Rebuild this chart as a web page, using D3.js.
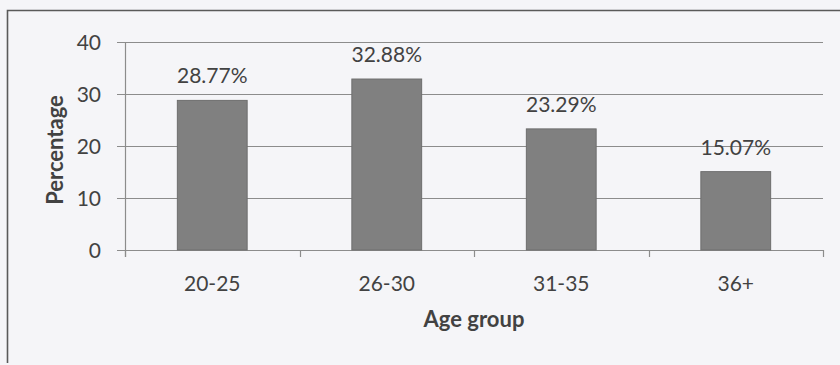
<!DOCTYPE html>
<html>
<head>
<meta charset="utf-8">
<script src="https://cdn.jsdelivr.net/npm/d3@7"></script>
<style>
  html, body { margin: 0; padding: 0; background: #f5f5f8; }
  svg { display: block; }
  text { font-family: Lato, "Open Sans", sans-serif; fill: #424242; }
</style>
</head>
<body>
<svg id="chart" width="840" height="365"></svg>
<script>
// Age groups and their share of respondents (%)
const categories = ["20-25", "26-30", "31-35", "36+"];
const values = [28.77, 32.88, 23.29, 15.07];
const valueLabels = ["28.77%", "32.88%", "23.29%", "15.07%"];
const yTicks = [0, 10, 20, 30, 40];

const svg = d3.select("#chart");
const W = 840, H = 365;
const plot = { left: 125, right: 823, top: 42, bottom: 250 };

// Chart frame
svg.append("path")
  .attr("d", `M7.5,${H - 2} L7.5,10.5 L${W},10.5`)
  .attr("fill", "none")
  .attr("stroke", "#5a5a5a")
  .attr("stroke-width", 1.6);

const x = d3.scaleBand()
  .domain(categories)
  .range([plot.left, plot.right])
  .paddingInner(0)
  .paddingOuter(0);

const y = d3.scaleLinear()
  .domain([0, 40])
  .range([plot.bottom, plot.top]);

// Horizontal gridlines with left tick marks
svg.append("g")
  .selectAll("line")
  .data(yTicks)
  .join("line")
  .attr("x1", plot.left - 8)
  .attr("x2", plot.right)
  .attr("y1", d => Math.round(y(d)) + 0.5)
  .attr("y2", d => Math.round(y(d)) + 0.5)
  .attr("stroke", "#8c8c8c")
  .attr("stroke-width", 1.2);

// Y axis line
svg.append("line")
  .attr("x1", plot.left + 0.5).attr("x2", plot.left + 0.5)
  .attr("y1", plot.top).attr("y2", plot.bottom + 7)
  .attr("stroke", "#8c8c8c")
  .attr("stroke-width", 1.2);

// X axis tick marks at category boundaries
const bounds = categories.map(c => x(c)).concat([plot.right]);
svg.append("g")
  .selectAll("line")
  .data(bounds)
  .join("line")
  .attr("x1", d => Math.round(d) + 0.5)
  .attr("x2", d => Math.round(d) + 0.5)
  .attr("y1", plot.bottom)
  .attr("y2", plot.bottom + 7)
  .attr("stroke", "#8c8c8c")
  .attr("stroke-width", 1.2);

// Y tick labels
svg.append("g")
  .selectAll("text")
  .data(yTicks)
  .join("text")
  .attr("x", 101)
  .attr("y", d => y(d))
  .attr("dy", "0.36em")
  .attr("text-anchor", "end")
  .attr("font-size", 21)
  .text(d => d);

// Bars: 40% of each category slot, centred
const barW = x.bandwidth() * 0.4;
svg.append("g")
  .selectAll("rect")
  .data(values)
  .join("rect")
  .attr("x", (d, i) => x(categories[i]) + (x.bandwidth() - barW) / 2)
  .attr("y", d => y(d))
  .attr("width", barW)
  .attr("height", d => y(0) - y(d))
  .attr("fill", "#808080")
  .attr("stroke", "#6e6e6e")
  .attr("stroke-width", 1);

// Value labels above bars
svg.append("g")
  .selectAll("text")
  .data(values)
  .join("text")
  .attr("x", (d, i) => x(categories[i]) + x.bandwidth() / 2)
  .attr("y", d => y(d) - 17)
  .attr("text-anchor", "middle")
  .attr("font-size", 21)
  .text((d, i) => valueLabels[i]);

// Category labels
svg.append("g")
  .selectAll("text")
  .data(categories)
  .join("text")
  .attr("x", d => x(d) + x.bandwidth() / 2)
  .attr("y", 291)
  .attr("text-anchor", "middle")
  .attr("font-size", 21)
  .text(d => d);

// Axis titles
svg.append("text")
  .attr("x", (plot.left + plot.right) / 2)
  .attr("y", 327)
  .attr("text-anchor", "middle")
  .attr("font-size", 22)
  .attr("font-weight", "bold")
  .text("Age group");

svg.append("text")
  .attr("transform", `translate(63,150) rotate(-90)`)
  .attr("text-anchor", "middle")
  .attr("font-size", 22)
  .attr("font-weight", "bold")
  .text("Percentage");
</script>
</body>
</html>
